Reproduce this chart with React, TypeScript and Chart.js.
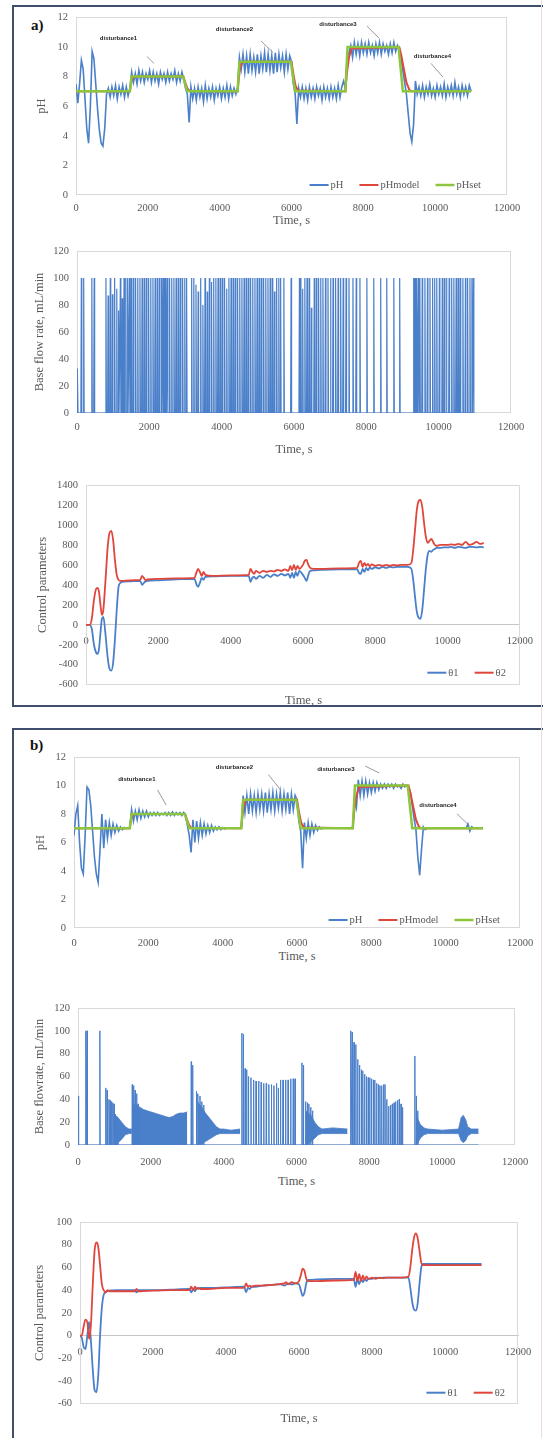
import React, { useEffect, useRef } from "react";
import { Chart, registerables } from "chart.js";

Chart.register(...registerables);
if (typeof document !== "undefined") document.body.style.margin = "0";

const W = 543;
const FONT = "'Liberation Serif', 'Times New Roman', serif";
const SANS = "'Liberation Sans', Arial, sans-serif";
const GRAY = "#595959";
const BLUE = "#4a7fc9";
const RED = "#e0463c";
const GREEN = "#8cc63e";
Chart.defaults.font.family = FONT;

// ---------------- DATA ----------------
const X_TICKS = [0, 2000, 4000, 6000, 8000, 10000, 12000];
const PH_STEP = 50; // sampling interval of the pH records, s

// panel a) measured pH, sampled every 50 s from 0 to 11000 s
const PH_A = [
  7.5, 6.2, 7.5, 9.1, 8.5, 6.5, 4.5, 3.5, 6.0, 9.7, 9.2, 7.5, 5.8, 4.4, 3.5, 3.3, 4.5, 6.8, 7.2,
  6.6, 7.3, 6.7, 7.4, 6.5, 7.3, 6.8, 7.4, 6.6, 7.3, 6.7,
  7.2,
  8.3, 7.6, 8.2, 7.5, 8.4, 7.7, 8.3, 7.6, 8.2, 7.8, 8.4, 7.6, 8.3, 7.7, 8.2, 7.5, 8.3, 7.8, 8.2, 7.6, 8.3, 7.7, 8.2, 7.8, 8.4, 7.6, 8.2, 7.7, 8.3,
  7.8, 7.2, 6.8, 4.9, 7.3,
  6.5, 7.2, 6.4, 7.3, 6.6, 7.2, 6.3, 7.4, 6.5, 7.2, 6.6, 7.3, 6.4, 7.2, 6.7, 7.3, 6.5, 7.2, 6.6, 7.4, 6.5, 7.3, 6.7, 7.2, 6.8,
  7.3, 9.3,
  8.5, 9.5, 8.3, 9.4, 8.2, 9.5, 8.4, 9.3, 8.3, 9.5, 8.2, 9.4, 8.5, 9.6, 8.3, 9.5, 8.4, 9.4, 8.2, 9.6, 8.3, 9.5, 8.6, 9.4, 8.3, 9.5, 8.5, 9.4,
  9.0, 7.5, 6.9, 4.8, 7.2,
  6.6, 7.3, 6.5, 7.2, 6.4, 7.3, 6.6, 7.2, 6.5, 7.3, 6.7, 7.2, 6.4, 7.3, 6.6, 7.2, 6.5, 7.3, 6.6, 7.2, 6.5, 7.4, 6.6, 7.3,
  7.7, 7.2, 9.3,
  9.6, 10.1, 9.3, 10.3, 9.5, 10.2, 9.4, 10.3, 9.6, 10.2, 9.5, 10.3, 9.6, 10.1, 9.4, 10.2, 9.6, 10.3, 9.5, 10.2, 9.7, 10.1, 9.5, 10.2, 9.6, 10.3, 9.7, 10.1,
  9.8, 9.3, 8.4, 7.6, 6.8, 5.5, 4.2, 3.6, 4.8, 7.7, 6.8, 7.3,
  6.7, 7.4, 6.6, 7.3, 6.8, 7.5, 6.7, 7.2, 6.6, 7.4, 6.8, 7.3, 6.7, 7.5, 6.6, 7.3, 6.8, 7.4, 6.7, 7.6, 6.8, 7.3, 6.6, 7.4, 6.8, 7.3, 6.7, 7.4, 7.0,
];

// panel b) measured pH, sampled every 50 s from 0 to 11000 s
const PH_B = [
  6.5, 8.0, 8.6, 6.0, 4.2, 3.8, 6.5, 9.9, 9.7, 8.6, 6.8, 5.0, 3.8, 3.2, 5.5, 8.0, 5.6, 7.6, 6.3,
  7.4, 6.5, 7.3, 6.7, 7.2, 6.8, 7.1, 6.9, 7.05, 7.0, 7.0,
  7.0,
  8.3, 7.5, 8.2, 7.6, 8.3, 7.7, 8.2, 7.8, 8.2, 7.8, 8.1, 7.9, 8.1, 7.9, 8.1, 7.9, 8.05, 7.95, 8.1, 7.9, 8.1, 7.9, 8.15, 7.9, 8.1, 7.95, 8.1, 7.9, 8.1,
  7.9, 7.2, 6.5, 5.3, 7.6,
  6.0, 7.5, 6.3, 7.4, 6.5, 7.3, 6.6, 7.2, 6.7, 7.2, 6.8, 7.1, 6.9, 7.1, 6.9, 7.05, 6.95, 7.0, 7.0, 7.0, 7.0, 7.0, 7.0, 7.0, 7.0,
  7.0, 9.3,
  8.1, 9.3, 8.0, 9.4, 8.2, 9.3, 8.1, 9.4, 8.3, 9.4, 8.2, 9.5, 8.1, 9.4, 8.3, 9.5, 8.2, 9.4, 8.4, 9.5, 8.2, 9.4, 8.3, 9.5, 8.0, 9.4, 8.3, 9.3,
  9.0, 7.5, 6.8, 4.2, 7.4,
  6.3, 7.4, 6.5, 7.3, 6.7, 7.2, 6.85, 7.1, 6.95, 7.05, 7.0, 7.0, 7.0, 7.0, 7.0, 7.0, 7.0, 7.0, 7.0, 7.0, 7.0, 7.0, 7.0, 7.0,
  7.0, 7.1, 9.2,
  8.5, 10.4, 9.3, 10.3, 9.3, 10.3, 9.4, 10.2, 9.5, 10.2, 9.6, 10.2, 9.7, 10.1, 9.8, 10.1, 9.8, 10.1, 9.9, 10.1, 9.8, 10.1, 9.9, 10.0, 9.8, 10.1, 9.9, 10.0,
  9.9, 9.5, 8.6, 7.7, 6.9, 5.0, 3.7, 5.5, 7.1, 6.9, 7.0, 7.0,
  7.0, 7.0, 7.0, 7.0, 7.0, 7.0, 7.0, 7.0, 7.0, 7.0, 7.0, 7.0, 7.0, 7.0, 7.0, 7.0, 7.0, 7.0, 7.0, 7.0, 7.3, 6.8, 7.1, 7.0, 7.0, 7.0, 7.0, 7.0, 7.0,
];

// set point and model pH (both panels)
const PHSET_T = [0, 1500, 1550, 2980, 3100, 4500, 4550, 5980, 6100, 7500, 7560, 8980, 9100, 11000];
const PHSET_V = [7, 7, 8, 8, 7, 7, 9, 9, 7, 7, 10, 10, 7, 7];
const PHMODEL_T = [0, 1500, 1530, 1560, 1620, 2990, 3040, 3100, 3160, 4500, 4530, 4570, 4640, 6000, 6050, 6110, 6180, 7500, 7540, 7600, 7680, 9000, 9050, 9120, 9200, 9280, 9350, 11000];
const PHMODEL_V = [7, 7, 7.5, 7.85, 8, 8, 7.6, 7.2, 7.03, 7, 7.8, 8.6, 9, 9, 8.2, 7.4, 7.05, 7, 8.2, 9.3, 9.9, 10, 9.5, 8.6, 7.6, 7.1, 7, 7];

// panel a) base flow rate pulses (time s, peak mL/min)
const FLOWA_T = [
  15, 120, 185, 410, 475,
  800, 860, 920, 980, 1040, 1100, 1150, 1200, 1250, 1300, 1350, 1400, 1450, 1500, 1560, 1620, 1680, 1740, 1800, 1860,
  1920, 1980, 2040, 2100, 2160, 2220, 2280, 2340, 2380, 2420, 2460, 2500, 2560, 2620, 2680, 2740, 2800, 2860, 2920, 2980, 3030,
  3170, 3230, 3290, 3350, 3420, 3480, 3540, 3600, 3660, 3720, 3780, 3840, 3900, 3960, 4020, 4080, 4140, 4200, 4260, 4320,
  4380, 4440, 4500, 4560, 4620, 4680, 4740, 4800, 4860, 4920, 4980, 5040, 5100, 5160, 5220, 5280, 5340, 5400, 5460, 5520,
  5580, 5630, 5720, 5920,
  6150, 6190, 6240, 6300, 6360, 6420, 6480, 6560, 6620, 6680, 6740, 6800, 6870, 6940, 7010, 7080, 7150, 7220, 7290, 7360,
  7440, 7520, 7630, 7720, 7823, 8015, 8206, 8397, 8565, 8760, 8922,
  9310, 9340, 9370, 9400, 9440, 9480, 9545, 9620, 9690, 9760, 9832, 9890, 9948, 10020, 10100, 10160, 10216, 10290, 10360, 10420,
  10483, 10540, 10597, 10670, 10740, 10800, 10865, 10920, 10960,
];
const FLOWA_H = [
  33, 100, 100, 100, 100,
  100, 87, 100, 88, 100, 92, 76, 100, 85, 100, 100, 100, 100, 100, 100, 100, 100, 100, 100, 100,
  100, 100, 100, 100, 100, 100, 100, 100, 100, 100, 100, 100, 100, 100, 100, 100, 100, 100, 100, 100, 100,
  100, 100, 95, 90, 100, 80, 100, 90, 100, 97, 100, 100, 100, 100, 100, 100, 92, 100, 100, 100,
  100, 100, 100, 100, 100, 100, 100, 100, 100, 100, 100, 100, 100, 100, 100, 100, 100, 100, 90, 100,
  100, 100, 100, 100,
  100, 100, 92, 100, 100, 100, 78, 100, 100, 100, 100, 100, 100, 100, 100, 100, 100, 100, 100, 100,
  100, 100, 100, 100, 100, 100, 100, 100, 100, 100, 100,
  100, 100, 100, 100, 100, 100, 100, 100, 100, 100, 100, 100, 100, 100, 100, 100, 100, 100, 100, 100,
  100, 100, 100, 100, 100, 100, 100, 100, 100,
];

// panel a) control parameters
const T3 = [
  0, 100, 160, 220, 280, 320, 360, 400, 440, 480, 540, 600, 650, 700, 750, 800, 850, 900, 950, 1000,
  1200, 1500, 1550, 1600, 1650, 1700, 2000, 2500, 3000, 3050, 3100, 3150, 3200, 3250, 3300, 3500, 4000, 4500, 4550, 4600,
  4650, 4700, 4800, 4900, 5000, 5100, 5200, 5300, 5400, 5500, 5600, 5650, 5700, 5750, 5800, 5850, 5900, 6000, 6050, 6100,
  6150, 6200, 6300, 6500, 7000, 7500, 7550, 7600, 7650, 7700, 7750, 7800, 7850, 7900, 8000, 8100, 8200, 8300, 8400, 8500,
  8600, 8700, 8800, 8900, 9000, 9050, 9100, 9150, 9200, 9250, 9300, 9350, 9400, 9450, 9500, 9550, 9600, 9650, 9700, 9800,
  9900, 10000, 10100, 10200, 10300, 10400, 10500, 10600, 10700, 10800, 10900, 11000,
];
const TH1_A = [
  0, 0, -40, -200, -280, -290, -240, -80, 60, 80, -100, -330, -440, -460, -380, -150, 150, 380, 420, 430,
  435, 440, 400, 420, 435, 440, 445, 455, 460, 410, 380, 420, 470, 450, 480, 485, 490, 490, 430, 470,
  480, 460, 490, 470, 500, 480, 505, 490, 510, 495, 510, 470, 520, 470, 530, 490, 540, 500, 470, 440,
  500, 540, 545, 550, 555, 555, 520, 510, 560, 530, 570, 545, 575, 560, 575, 565, 580, 570, 580, 575,
  580, 580, 580, 580, 560, 450, 280, 130, 70, 60, 150, 350, 560, 700, 740, 730, 750, 760, 770, 770,
  775, 775, 780, 770, 780, 775, 770, 780, 780, 775, 780, 775,
];
const TH2_A = [
  0, 0, 60, 250, 360, 370, 330, 200, 100, 150, 450, 780, 920, 940, 850, 650, 500, 450, 440, 440,
  445, 450, 490, 470, 445, 455, 460, 465, 470, 520, 560, 530, 490, 530, 500, 490, 495, 500, 560, 530,
  510, 540, 520, 540, 530, 540, 535, 550, 540, 555, 540, 590, 545, 600, 550, 590, 560, 600, 640, 650,
  600, 570, 560, 560, 565, 570, 620, 640, 580, 620, 590, 610, 585, 605, 590, 600, 590, 600, 590, 600,
  595, 600, 600, 600, 620, 750, 950, 1150, 1240, 1250, 1180, 1020, 880, 820, 840, 860, 830, 800, 790, 800,
  800, 800, 805, 800, 810, 800, 830, 800, 810, 830, 810, 820,
];

// panel b) base flowrate: pulses (time s, peak) + dense-oscillation envelope
const FLOWB_T = [
  17, 215, 250, 600, 760, 800, 850, 885, 920, 955, 990, 1025, 1060, 1095, 1490, 1530, 1570, 1610, 1650,
  3110, 3150, 3250, 3290, 3350, 3400, 3450,
  4500, 4540, 4590, 4630, 4680, 4750, 4820, 4890, 4960, 5030, 5100, 5170, 5240, 5310, 5380, 5450, 5500, 5560, 5630, 5700,
  5770, 5840, 5910, 5960,
  6150, 6190, 6250, 6300, 6340, 6390, 6440,
  7490, 7530, 7580, 7630, 7680, 7730, 7780, 7820, 7870, 7920, 7970, 8010, 8060, 8110, 8150, 8200, 8250, 8290, 8340, 8390,
  8430, 8480, 8530, 8580, 8630, 8680, 8720, 8770, 8820, 8870, 8910,
  9250, 9290, 9330,
];
const FLOWB_H = [
  43, 100, 100, 100, 50, 48, 40, 39, 38, 37, 36, 27, 25, 22, 53, 52, 48, 45, 36,
  73, 70, 47, 45, 43, 38, 35,
  98, 97, 67, 66, 60, 59, 57, 56, 56, 55, 54, 54, 53, 53, 52, 54, 50, 57, 57, 57,
  57, 58, 58, 58,
  72, 70, 38, 37, 36, 33, 30,
  100, 99, 90, 88, 75, 70, 66, 65, 62, 60, 59, 59, 58, 57, 57, 54, 53, 52, 52, 53,
  53, 40, 34, 35, 36, 37, 38, 39, 40, 36, 33,
  78, 43, 30,
];
const FLOWB_BAND_T = [
  1000, 1020, 1100, 1200, 1300, 1400, 1480, 1490,
  1500, 1600, 1700, 1800, 1900, 2000, 2100, 2200, 2300, 2400, 2500, 2600, 2700, 2800, 2900, 3000, 3010,
  3280, 3400, 3500, 3600, 3700, 3800, 3900, 4000, 4200, 4450, 4460,
  6250, 6400, 6500, 6600, 6700, 7000, 7400, 7410,
  9300, 9400, 9500, 9600, 10000, 10450, 10520, 10580, 10650, 10700, 10800, 11000,
];
const FLOWB_BAND_HI = [
  0, 26, 24, 20, 16, 14, 14, null,
  35, 35, 33, 31, 30, 29, 28, 27, 26, 25, 24, 25, 27, 28, 28, 29, null,
  38, 33, 28, 24, 20, 16, 14, 14, 13, 14, null,
  30, 26, 20, 16, 14, 15, 14, null,
  25, 18, 15, 14, 13, 14, 24, 26, 22, 16, 14, 14,
];
const FLOWB_BAND_LO = [
  0, 0, 2, 5, 9, 10, 10, null,
  0, 0, 0, 0, 0, 0, 0, 0, 0, 0, 0, 0, 0, 0, 0, 0, null,
  0, 1, 3, 5, 7, 9, 10, 10, 10, 10, null,
  0, 3, 6, 9, 10, 10, 10, null,
  0, 6, 9, 10, 10, 10, 4, 2, 4, 8, 10, 10,
];

// panel b) control parameters
const T6 = [
  0, 50, 100, 150, 200, 250, 300, 350, 400, 450, 500, 550, 600, 650, 700, 750, 800, 1000, 1500, 1550,
  1600, 1650, 2000, 2500, 3000, 3050, 3100, 3150, 3200, 3250, 3300, 3500, 4000, 4500, 4550, 4600, 4650, 4700, 4800, 5000,
  5200, 5400, 5500, 5600, 5650, 5700, 5800, 5900, 6000, 6050, 6100, 6150, 6200, 6250, 6300, 6500, 7000, 7500, 7550, 7600,
  7650, 7700, 7750, 7800, 7850, 7900, 8000, 8100, 8200, 8300, 8400, 8500, 8600, 8800, 9000, 9050, 9100, 9150, 9200, 9250,
  9300, 9350, 9400, 9450, 9500, 10000, 10500, 10600, 11000,
];
const TH1_B = [
  0, -2, -10, -12, 0, 12, -5, -30, -48, -50, -35, 0, 25, 36, 38, 39, 39.5, 40, 40, 38,
  40, 40, 40, 40.5, 41, 38, 41, 39, 42, 41, 42, 42, 42.5, 43, 38, 42, 41, 43, 43, 44,
  44.5, 45, 45, 44, 45, 46, 45, 46, 45, 40, 35, 38, 46, 49, 49, 49.5, 50, 50, 43, 50,
  45, 50, 47, 50, 48, 50, 50, 51, 50.5, 51, 51, 51, 51, 51, 51, 42, 30, 23, 22, 28,
  45, 60, 63, 63, 63, 63, 63, 63, 63,
];
const TH2_B = [
  0, 0, 8, 14, 12, -3, 10, 45, 75, 82, 78, 62, 45, 40, 38, 40, 39, 39, 39, 41,
  39, 39, 39.5, 40, 40, 43, 40, 43, 41, 42, 41, 41, 42, 42, 46, 43, 44, 43, 44, 44,
  44.5, 45, 45.5, 46, 47, 45, 47, 46, 48, 53, 59, 57, 50, 48, 48, 48, 48.5, 49, 56, 48,
  54, 48, 53, 49, 52, 50, 51, 50, 51, 50.5, 51, 51, 51, 51, 52, 60, 75, 86, 90, 86,
  75, 64, 62, 62, 62, 62, 62, 62, 62,
];

// ---------------- helpers ----------------
type Pt = { x: number; y: number | null };
const zip = (ts: number[], vs: (number | null)[]): Pt[] => {
  const n = Math.min(ts.length, vs.length);
  const out: Pt[] = [];
  for (let i = 0; i < n; i++) out.push({ x: ts[i], y: vs[i] });
  return out;
};
const sampled = (vs: number[], step: number): Pt[] => vs.map((v, i) => ({ x: i * step, y: v }));
const pulses = (ts: number[], hs: number[], half: number): Pt[] => {
  const out: Pt[] = [{ x: 0, y: 0 }];
  const n = Math.min(ts.length, hs.length);
  for (let i = 0; i < n; i++) {
    out.push({ x: Math.max(0, ts[i] - half), y: 0 }, { x: ts[i], y: hs[i] }, { x: ts[i] + half, y: 0 });
  }
  out.push({ x: 11000, y: 0 });
  return out;
};

type Layout = { top: number; plotTop: number; plotBottom: number; plotLeft: number; plotRight: number; titleCx: number; xPad: number; timeY: number; xZero: boolean };
const X_AXIS_H = 20;
const ZERO_PAD = 14;
const heightOf = (L: Layout) => L.plotBottom + (L.xZero ? ZERO_PAD : X_AXIS_H) - L.top;

const L1: Layout = { top: 3, plotTop: 17, plotBottom: 195, plotLeft: 76, plotRight: 507, titleCx: 41.5, xPad: 7, timeY: 220, xZero: false };
const L2: Layout = { top: 236, plotTop: 251, plotBottom: 413, plotLeft: 77, plotRight: 511, titleCx: 40, xPad: 8, timeY: 449, xZero: false };
const L3: Layout = { top: 470, plotTop: 485, plotBottom: 685, plotLeft: 86, plotRight: 521, titleCx: 43, xPad: 10, timeY: 700, xZero: true };
const L4: Layout = { top: 742, plotTop: 757, plotBottom: 928, plotLeft: 74, plotRight: 520, titleCx: 41, xPad: 9, timeY: 956, xZero: false };
const L5: Layout = { top: 993, plotTop: 1008, plotBottom: 1145, plotLeft: 78, plotRight: 515, titleCx: 40, xPad: 11, timeY: 1181, xZero: false };
const L6: Layout = { top: 1205, plotTop: 1222, plotBottom: 1404, plotLeft: 80, plotRight: 518, titleCx: 40, xPad: 10, timeY: 1418, xZero: true };

const framePlugin = {
  id: "frame",
  beforeDatasetsDraw(chart: any) {
    const { ctx, chartArea: a } = chart;
    ctx.save();
    ctx.strokeStyle = "#d9d9d9";
    ctx.lineWidth = 1;
    ctx.strokeRect(Math.round(a.left) + 0.5, Math.round(a.top) + 0.5, Math.round(a.right - a.left) - 1, Math.round(a.bottom - a.top) - 1);
    ctx.restore();
  },
};

type LegItem = { text: string; color: string; width: number };
const makeLegend = (items: LegItem[], right: number, bottom: number) => ({
  id: "inlegend",
  afterDatasetsDraw(chart: any) {
    const { ctx, chartArea: a } = chart;
    ctx.save();
    ctx.font = `10.5px ${FONT}`;
    const lineLen = 19, gapT = 2, gapI = 16;
    const ws = items.map((it) => ctx.measureText(it.text).width);
    let total = 0;
    ws.forEach((w, i) => (total += lineLen + gapT + w + (i ? gapI : 0)));
    let x = a.right - right - total;
    const y = a.bottom - bottom;
    items.forEach((it, i) => {
      ctx.strokeStyle = it.color;
      ctx.lineWidth = it.width;
      ctx.beginPath();
      ctx.moveTo(x, y);
      ctx.lineTo(x + lineLen, y);
      ctx.stroke();
      ctx.fillStyle = GRAY;
      ctx.textBaseline = "middle";
      ctx.textAlign = "left";
      ctx.fillText(it.text, x + lineLen + gapT, y + 0.5);
      x += lineLen + gapT + ws[i] + gapI;
    });
    ctx.restore();
  },
});

type Note = { text: string; x: number; y: number; x1: number; y1: number; x2: number; y2: number };
const makeNotes = (notes: Note[], size: number) => ({
  id: "notes",
  afterDatasetsDraw(chart: any) {
    const { ctx, scales } = chart;
    const xs = scales.x, ys = scales.y;
    ctx.save();
    ctx.font = `bold ${size}px ${SANS}`;
    ctx.fillStyle = "#262626";
    ctx.textAlign = "center";
    ctx.textBaseline = "middle";
    ctx.strokeStyle = "#808080";
    ctx.lineWidth = 0.8;
    notes.forEach((n) => {
      ctx.fillText(n.text, xs.getPixelForValue(n.x), ys.getPixelForValue(n.y));
      ctx.beginPath();
      ctx.moveTo(xs.getPixelForValue(n.x1), ys.getPixelForValue(n.y1));
      ctx.lineTo(xs.getPixelForValue(n.x2), ys.getPixelForValue(n.y2));
      ctx.stroke();
    });
    ctx.restore();
  },
});

const NOTES_A: Note[] = [
  { text: "disturbance1", x: 1183, y: 10.58, x1: 1977, y1: 9.35, x2: 2171, y2: 8.89 },
  { text: "disturbance2", x: 4413, y: 11.2, x1: 5150, y1: 10.41, x2: 5484, y2: 9.62 },
  { text: "disturbance3", x: 7294, y: 11.54, x1: 8101, y1: 11.4, x2: 8435, y2: 10.6 },
  { text: "disturbance4", x: 9925, y: 9.35, x1: 9883, y1: 8.89, x2: 10217, y2: 7.96 },
];
const NOTES_B: Note[] = [
  { text: "disturbance1", x: 1690, y: 10.41, x1: 2247, y1: 9.69, x2: 2481, y2: 8.62 },
  { text: "disturbance2", x: 4316, y: 11.24, x1: 5230, y1: 10.77, x2: 5556, y2: 9.69 },
  { text: "disturbance3", x: 7046, y: 11.12, x1: 7837, y1: 11.36, x2: 8211, y2: 10.88 },
  { text: "disturbance4", x: 9793, y: 8.62, x1: 10304, y1: 8.02, x2: 10632, y2: 7.19 },
];

function options(L: Layout, y: { min: number; max: number; step: number; title: string }) {
  const padLeft = L.titleCx - 7.5;
  const yWidth = L.plotLeft - padLeft;
  const padBottom = L.xZero ? ZERO_PAD : 0;
  const tickFont = { family: FONT, size: 10.5 };
  return {
    responsive: false,
    animation: false as const,
    devicePixelRatio: 1,
    layout: { padding: { left: padLeft, right: W - L.plotRight, top: L.plotTop - L.top, bottom: padBottom } },
    plugins: { legend: { display: false }, tooltip: { enabled: false } },
    elements: { point: { radius: 0 } },
    scales: {
      x: {
        type: "linear",
        min: 0,
        max: 12000,
        position: L.xZero ? { y: 0 } : "bottom",
        grid: { display: false, drawTicks: false },
        border: { display: L.xZero, color: "#c6c6c6", width: 1 },
        afterBuildTicks: (s: any) => { s.ticks = X_TICKS.map((v) => ({ value: v })); },
        ticks: { autoSkip: false, maxRotation: 0, padding: L.xPad, font: tickFont, color: GRAY, callback: (v: any) => String(v) },
        afterFit: (s: any) => { s.height = X_AXIS_H; },
      },
      y: {
        type: "linear",
        min: y.min,
        max: y.max,
        position: "left",
        grid: { display: false, drawTicks: false },
        border: { display: false },
        ticks: { stepSize: y.step, padding: 8, font: tickFont, color: GRAY, callback: (v: any) => String(v) },
        title: { display: true, text: y.title, font: { family: FONT, size: 12.5 }, color: GRAY, padding: 0 },
        afterFit: (s: any) => { s.width = yWidth; },
      },
    },
  };
}

const phDatasets = (ph: number[]) => [
  { label: "pH", data: sampled(ph, PH_STEP), borderColor: BLUE, borderWidth: 1.6, order: 3 },
  { label: "pHmodel", data: zip(PHMODEL_T, PHMODEL_V), borderColor: RED, borderWidth: 2, order: 2 },
  { label: "pHset", data: zip(PHSET_T, PHSET_V), borderColor: GREEN, borderWidth: 2.5, order: 1 },
];
const thetaDatasets = (t: number[], a: number[], b: number[]) => [
  { label: "θ1", data: zip(t, a), borderColor: BLUE, borderWidth: 1.8, cubicInterpolationMode: "monotone", order: 2 },
  { label: "θ2", data: zip(t, b), borderColor: RED, borderWidth: 1.8, cubicInterpolationMode: "monotone", order: 1 },
];
const PH_LEGEND: LegItem[] = [
  { text: "pH", color: BLUE, width: 2 },
  { text: "pHmodel", color: RED, width: 2 },
  { text: "pHset", color: GREEN, width: 2.5 },
];
const TH_LEGEND: LegItem[] = [
  { text: "θ1", color: BLUE, width: 2 },
  { text: "θ2", color: RED, width: 2 },
];

const CHARTS: { L: Layout; make: () => any }[] = [
  {
    L: L1,
    make: () => ({
      type: "line",
      data: { datasets: phDatasets(PH_A) },
      options: options(L1, { min: 0, max: 12, step: 2, title: "pH" }),
      plugins: [framePlugin, makeLegend(PH_LEGEND, 26, 10), makeNotes(NOTES_A, 6)],
    }),
  },
  {
    L: L2,
    make: () => ({
      type: "line",
      data: { datasets: [{ label: "Base flow rate", data: pulses(FLOWA_T, FLOWA_H, 13), borderColor: BLUE, borderWidth: 1.2 }] },
      options: options(L2, { min: 0, max: 120, step: 20, title: "Base flow rate, mL/min" }),
      plugins: [framePlugin],
    }),
  },
  {
    L: L3,
    make: () => ({
      type: "line",
      data: { datasets: thetaDatasets(T3, TH1_A, TH2_A) },
      options: options(L3, { min: -600, max: 1400, step: 200, title: "Control parameters" }),
      plugins: [framePlugin, makeLegend(TH_LEGEND, 14, 12)],
    }),
  },
  {
    L: L4,
    make: () => ({
      type: "line",
      data: { datasets: phDatasets(PH_B) },
      options: options(L4, { min: 0, max: 12, step: 2, title: "pH" }),
      plugins: [framePlugin, makeLegend(PH_LEGEND, 20, 8), makeNotes(NOTES_B, 6)],
    }),
  },
  {
    L: L5,
    make: () => ({
      type: "line",
      data: {
        datasets: [
          { label: "pulses", data: pulses(FLOWB_T, FLOWB_H, 8), borderColor: BLUE, borderWidth: 1 },
          { label: "band hi", data: zip(FLOWB_BAND_T, FLOWB_BAND_HI), borderColor: BLUE, borderWidth: 0.8, backgroundColor: BLUE, fill: "+1", spanGaps: false },
          { label: "band lo", data: zip(FLOWB_BAND_T, FLOWB_BAND_LO), borderColor: BLUE, borderWidth: 0.8, fill: false, spanGaps: false },
        ],
      },
      options: options(L5, { min: 0, max: 120, step: 20, title: "Base flowrate, mL/min" }),
      plugins: [framePlugin],
    }),
  },
  {
    L: L6,
    make: () => ({
      type: "line",
      data: { datasets: thetaDatasets(T6, TH1_B, TH2_B) },
      options: options(L6, { min: -60, max: 100, step: 20, title: "Control parameters" }),
      plugins: [framePlugin, makeLegend(TH_LEGEND, 13, 11)],
    }),
  },
];

const textStyle: React.CSSProperties = { position: "absolute", fontFamily: FONT, fontSize: 12.5, color: GRAY, lineHeight: "16px", whiteSpace: "nowrap", transform: "translateX(-50%)" };

export default function App() {
  const canvases = useRef<(HTMLCanvasElement | null)[]>([]);
  useEffect(() => {
    const charts = CHARTS.map((c, i) => new Chart(canvases.current[i] as HTMLCanvasElement, c.make()));
    return () => charts.forEach((ch) => ch.destroy());
  }, []);
  return (
    <div style={{ position: "relative", width: W, height: 1438, overflow: "hidden", background: "#fff" }}>
      <div style={{ position: "absolute", left: 12, top: 5, width: 600, height: 702, boxSizing: "border-box", border: "2px solid #3f4e6b" }} />
      <div style={{ position: "absolute", left: 12, top: 728, width: 600, height: 800, boxSizing: "border-box", border: "2px solid #3f4e6b" }} />
      <div style={{ position: "absolute", left: 541, top: 0, width: 1, height: 1438, background: "#ecdbe2" }} />
      <div style={{ position: "absolute", left: 31, top: 17, fontFamily: FONT, fontWeight: "bold", fontSize: 15, color: "#111" }}>a)</div>
      <div style={{ position: "absolute", left: 30, top: 737, fontFamily: FONT, fontWeight: "bold", fontSize: 15, color: "#111" }}>b)</div>
      {CHARTS.map((c, i) => (
        <canvas
          key={"c" + i}
          ref={(el) => { canvases.current[i] = el; }}
          width={W}
          height={heightOf(c.L)}
          style={{ position: "absolute", left: 0, top: c.L.top, width: W, height: heightOf(c.L) }}
        />
      ))}
      {CHARTS.map((c, i) => (
        <div key={"t" + i} style={{ ...textStyle, left: (c.L.plotLeft + c.L.plotRight) / 2, top: c.L.timeY - 8 }}>Time, s</div>
      ))}
    </div>
  );
}
